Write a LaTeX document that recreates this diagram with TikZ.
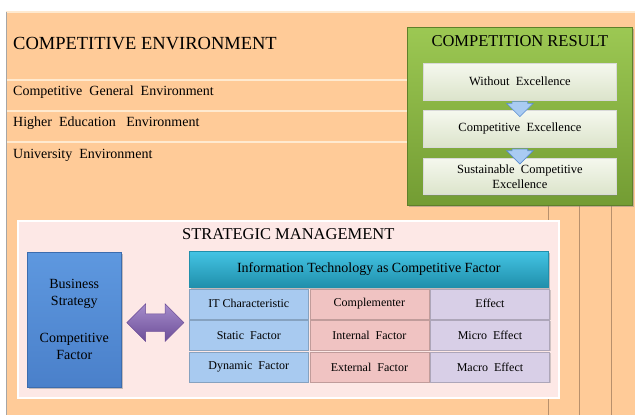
\documentclass[tikz,border=0pt]{standalone}
\usepackage{fontspec}
\setmainfont{Liberation Serif}
\usetikzlibrary{positioning,calc,shapes.arrows,shadows}

\definecolor{peach}{HTML}{FFCB98}
\definecolor{peachlite}{HTML}{FFEAD0}
\definecolor{peachdark}{HTML}{B8906C}
\definecolor{leaftop}{HTML}{9CC853}
\definecolor{leafbot}{HTML}{739C33}
\definecolor{leafrim}{HTML}{5E802A}
\definecolor{paletop}{HTML}{F5F8EE}
\definecolor{palebot}{HTML}{DCE4CB}
\definecolor{skyfill}{HTML}{A9CBF2}
\definecolor{skyrim}{HTML}{5B8ED0}
\definecolor{blush}{HTML}{FDE8E6}
\definecolor{bluetop}{HTML}{5E98DF}
\definecolor{bluebot}{HTML}{4A80CA}
\definecolor{bluerim}{HTML}{3C6CAE}
\definecolor{plumtop}{HTML}{A58CCB}
\definecolor{plumbot}{HTML}{6D4E98}
\definecolor{tealtop}{HTML}{44C4E4}
\definecolor{tealbot}{HTML}{208FAB}
\definecolor{cellblue}{HTML}{A8CAF0}
\definecolor{cellpink}{HTML}{F0C3C2}
\definecolor{celllilac}{HTML}{D8CFE7}

\tikzstyle{band} = [anchor=north west, fill=peach, inner sep=0pt, outer sep=0pt]
\tikzstyle{rimlight} = [peachlite, line width=1.6pt]
\tikzstyle{rimdark} = [peachdark, line width=0.8pt]
\tikzstyle{envtitle} = [anchor=west, inner sep=0pt, font=\fontsize{18.5}{22}\selectfont]
\tikzstyle{envtext} = [anchor=west, inner sep=0pt, font=\fontsize{14}{16}\selectfont]
\tikzstyle{boxshadow} = [drop shadow={shadow xshift=1.5pt, shadow yshift=-1.5pt, opacity=0.45}]
\tikzstyle{resultbox} = [anchor=north west, top color=leaftop, bottom color=leafbot,
    draw=leafrim, line width=0.8pt, inner sep=0pt, boxshadow]
\tikzstyle{boxtitle} = [inner sep=0pt, font=\fontsize{16.5}{19}\selectfont]
\tikzstyle{stagebox} = [top color=paletop, bottom color=palebot, draw=white!70!gray,
    minimum width=193pt, minimum height=36.5pt, inner sep=0pt, align=center,
    font=\fontsize{12.5}{15}\selectfont, drop shadow={shadow xshift=1pt, shadow yshift=-1pt, opacity=0.35}]
\tikzstyle{flowarrow} = [single arrow, rotate=-90, fill=skyfill, draw=skyrim, line width=0.6pt,
    inner xsep=0pt, inner ysep=7.5pt, minimum height=15pt, single arrow head extend=5.5pt]
\tikzstyle{stratbox} = [anchor=north west, fill=blush, draw=white, line width=1.5pt,
    inner sep=0pt, boxshadow]
\tikzstyle{bizbox} = [anchor=north west, top color=bluetop, bottom color=bluebot, draw=bluerim,
    line width=0.6pt, inner sep=0pt, boxshadow]
\tikzstyle{linkarrow} = [double arrow, top color=plumtop, bottom color=plumbot, draw=plumbot,
    line width=0.5pt, inner xsep=0pt, inner ysep=8.5pt, minimum height=57pt,
    double arrow head extend=10pt]
\tikzstyle{headbox} = [anchor=north west, top color=tealtop, bottom color=tealbot, draw=tealbot,
    line width=0.5pt, inner sep=0pt, minimum width=359pt, minimum height=36pt,
    font=\fontsize{14}{16}\selectfont, boxshadow]
\tikzstyle{cell} = [minimum width=119pt, minimum height=30pt, inner sep=0pt,
    font=\fontsize{12}{14}\selectfont, line width=0.6pt,
    drop shadow={shadow xshift=1pt, shadow yshift=-1pt, opacity=0.35}]
\tikzstyle{itcell} = [cell, fill=cellblue, draw=cellblue!80!black]
\tikzstyle{compcell} = [cell, fill=cellpink, draw=cellpink!80!black]
\tikzstyle{effcell} = [cell, fill=celllilac, draw=celllilac!80!black]

\begin{document}
\begin{tikzpicture}[x=1pt, y=-1pt, node distance=1pt]
    \useasboundingbox (0,0) rectangle (635,415);

    % competitive environment, nested bands
    \node [band, minimum width=629pt, minimum height=403pt] (env) at (6,12) {};
    \node [band, minimum width=605pt, minimum height=335pt] (general) at (6,80) {};
    \node [band, minimum width=573pt, minimum height=304pt] (higher) at (6,111) {};
    \node [band, minimum width=542pt, minimum height=273pt] (univ) at (6,142) {};
    \foreach \b in {env,general,higher,univ} {
        \draw [rimlight] (\b.north west) -- (\b.north east);
        \draw [rimdark] (\b.north east) -- (\b.south east);
    }
    \draw [gray!70, line width=0.8pt] (env.north west) -- (env.south west);

    \node [envtitle] (envlabel) at ($(env.north west)+(7,32)$) {COMPETITIVE ENVIRONMENT};
    \node [envtext] (generallabel) at ($(general.north west)+(7,12)$) {Competitive\ \ General\ \ Environment};
    \node [envtext] (higherlabel) at ($(higher.north west)+(7,12)$) {Higher\ \ Education\ \ \ Environment};
    \node [envtext] (univlabel) at ($(univ.north west)+(7,13)$) {University\ \ Environment};

    % competition result
    \node [resultbox, minimum width=225pt, minimum height=178pt] (result) at (407,27) {};
    \node [boxtitle] (resultlabel) at ($(result.north)+(0,14)$) {COMPETITION RESULT};
    \node [stagebox] (without) at ($(result.north)+(0,54.5)$) {Without\ \ Excellence};
    \node [stagebox, below=10.5pt of without] (excellence) {Competitive\ \ Excellence};
    \node [stagebox, below=10.5pt of excellence] (sustain) {Sustainable\ \ Competitive\\Excellence};
    \node [flowarrow] (arrow1) at ($(without.south)!0.5!(excellence.north)$) {};
    \node [flowarrow] (arrow2) at ($(excellence.south)!0.5!(sustain.north)$) {};

    % strategic management
    \node [stratbox, minimum width=541pt, minimum height=177pt] (strategic) at (17,220) {};
    \node [boxtitle] (stratlabel) at ($(strategic.north)+(0,14)$) {STRATEGIC MANAGEMENT};
    \node [bizbox, minimum width=94pt, minimum height=135pt] (business) at (27,252) {};
    \node [align=center, font=\fontsize{14}{17}\selectfont] (bizlabel) at (business.center)
        {Business\\Strategy\\[20pt]Competitive\\Factor};

    \node [headbox] (itcf) at (189,251) {Information\ Technology\ as\ Competitive\ Factor};
    \node [itcell, below=1pt of itcf.south west, anchor=north west] (c11) {IT\ Characteristic};
    \node [compcell, right=of c11] (c12) {Complementer};
    \node [effcell, right=of c12] (c13) {Effect};
    \node [itcell, below=of c11] (c21) {Static\ \ Factor};
    \node [compcell, right=of c21] (c22) {Internal\ \ Factor};
    \node [effcell, right=of c22] (c23) {Micro\ \ Effect};
    \node [itcell, below=of c21] (c31) {Dynamic\ \ Factor};
    \node [compcell, right=of c31] (c32) {External\ \ Factor};
    \node [effcell, right=of c32] (c33) {Macro\ \ Effect};

    \node [linkarrow] (link) at ($(business.east)!0.5!(c21.west)+(0,-5)$) {};
\end{tikzpicture}
\end{document}
